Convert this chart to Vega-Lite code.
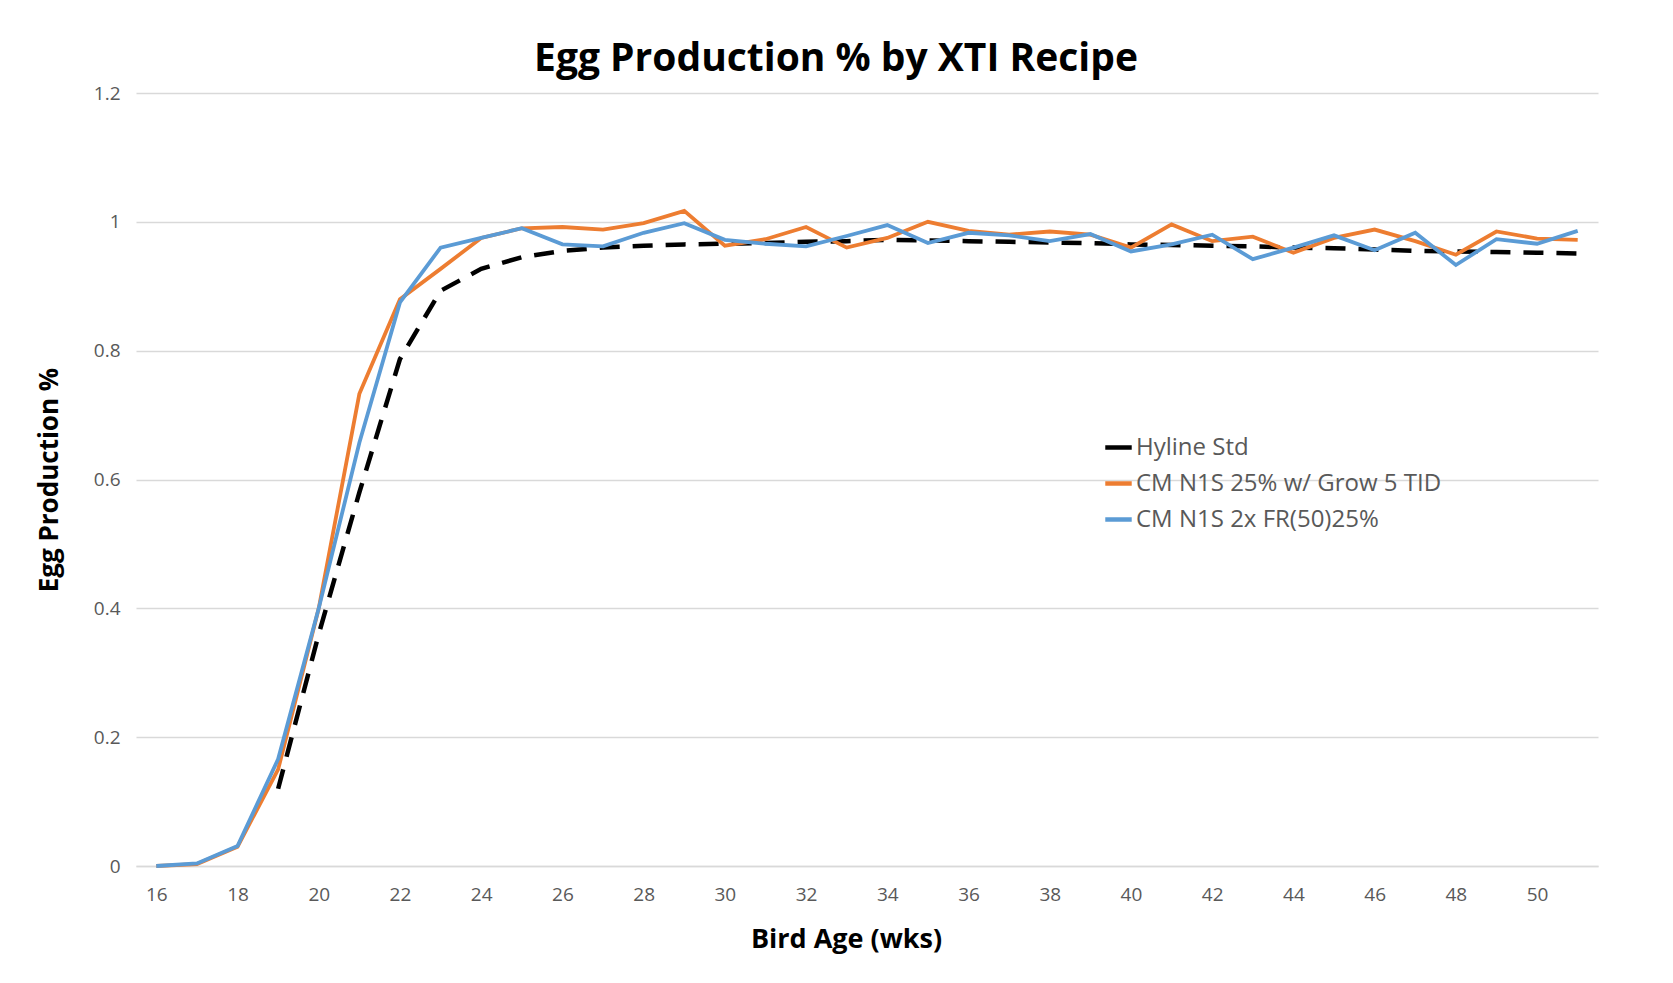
{
  "$schema": "https://vega.github.io/schema/vega-lite/v6.json",
  "width": 1462,
  "height": 773,
  "autosize": {"type": "none"},
  "padding": {"left": 136, "top": 93, "right": 75, "bottom": 117},
  "background": "white",
  "title": {"text": "Egg Production % by XTI Recipe", "font": "Open Sans", "fontSize": 39, "fontWeight": "bold", "color": "#000000", "anchor": "middle", "dx": -31, "offset": 5},
  "config": {"view": {"stroke": null}, "font": "Open Sans"},
  "data": {"values": [
    {"week": 19, "series": "Hyline Std", "value": 0.12},
    {"week": 20, "series": "Hyline Std", "value": 0.36},
    {"week": 21, "series": "Hyline Std", "value": 0.58},
    {"week": 22, "series": "Hyline Std", "value": 0.787},
    {"week": 23, "series": "Hyline Std", "value": 0.893},
    {"week": 24, "series": "Hyline Std", "value": 0.927},
    {"week": 25, "series": "Hyline Std", "value": 0.945},
    {"week": 26, "series": "Hyline Std", "value": 0.955},
    {"week": 27, "series": "Hyline Std", "value": 0.96},
    {"week": 28, "series": "Hyline Std", "value": 0.963},
    {"week": 29, "series": "Hyline Std", "value": 0.965},
    {"week": 30, "series": "Hyline Std", "value": 0.966},
    {"week": 31, "series": "Hyline Std", "value": 0.967},
    {"week": 32, "series": "Hyline Std", "value": 0.969},
    {"week": 33, "series": "Hyline Std", "value": 0.97},
    {"week": 34, "series": "Hyline Std", "value": 0.972},
    {"week": 35, "series": "Hyline Std", "value": 0.971},
    {"week": 36, "series": "Hyline Std", "value": 0.97},
    {"week": 37, "series": "Hyline Std", "value": 0.969},
    {"week": 38, "series": "Hyline Std", "value": 0.968},
    {"week": 39, "series": "Hyline Std", "value": 0.967},
    {"week": 40, "series": "Hyline Std", "value": 0.965},
    {"week": 41, "series": "Hyline Std", "value": 0.964},
    {"week": 42, "series": "Hyline Std", "value": 0.963},
    {"week": 43, "series": "Hyline Std", "value": 0.962},
    {"week": 44, "series": "Hyline Std", "value": 0.96},
    {"week": 45, "series": "Hyline Std", "value": 0.959},
    {"week": 46, "series": "Hyline Std", "value": 0.957},
    {"week": 47, "series": "Hyline Std", "value": 0.955},
    {"week": 48, "series": "Hyline Std", "value": 0.954},
    {"week": 49, "series": "Hyline Std", "value": 0.953},
    {"week": 50, "series": "Hyline Std", "value": 0.952},
    {"week": 51, "series": "Hyline Std", "value": 0.951},
    {"week": 16, "series": "CM N1S 25% w/ Grow 5 TID", "value": 0},
    {"week": 17, "series": "CM N1S 25% w/ Grow 5 TID", "value": 0.003},
    {"week": 18, "series": "CM N1S 25% w/ Grow 5 TID", "value": 0.03},
    {"week": 19, "series": "CM N1S 25% w/ Grow 5 TID", "value": 0.15},
    {"week": 20, "series": "CM N1S 25% w/ Grow 5 TID", "value": 0.4},
    {"week": 21, "series": "CM N1S 25% w/ Grow 5 TID", "value": 0.733},
    {"week": 22, "series": "CM N1S 25% w/ Grow 5 TID", "value": 0.88},
    {"week": 23, "series": "CM N1S 25% w/ Grow 5 TID", "value": 0.927},
    {"week": 24, "series": "CM N1S 25% w/ Grow 5 TID", "value": 0.975},
    {"week": 25, "series": "CM N1S 25% w/ Grow 5 TID", "value": 0.99},
    {"week": 26, "series": "CM N1S 25% w/ Grow 5 TID", "value": 0.992},
    {"week": 27, "series": "CM N1S 25% w/ Grow 5 TID", "value": 0.988},
    {"week": 28, "series": "CM N1S 25% w/ Grow 5 TID", "value": 0.998},
    {"week": 29, "series": "CM N1S 25% w/ Grow 5 TID", "value": 1.017},
    {"week": 30, "series": "CM N1S 25% w/ Grow 5 TID", "value": 0.963},
    {"week": 31, "series": "CM N1S 25% w/ Grow 5 TID", "value": 0.973},
    {"week": 32, "series": "CM N1S 25% w/ Grow 5 TID", "value": 0.992},
    {"week": 33, "series": "CM N1S 25% w/ Grow 5 TID", "value": 0.96},
    {"week": 34, "series": "CM N1S 25% w/ Grow 5 TID", "value": 0.975},
    {"week": 35, "series": "CM N1S 25% w/ Grow 5 TID", "value": 1.0},
    {"week": 36, "series": "CM N1S 25% w/ Grow 5 TID", "value": 0.986},
    {"week": 37, "series": "CM N1S 25% w/ Grow 5 TID", "value": 0.98},
    {"week": 38, "series": "CM N1S 25% w/ Grow 5 TID", "value": 0.985},
    {"week": 39, "series": "CM N1S 25% w/ Grow 5 TID", "value": 0.98},
    {"week": 40, "series": "CM N1S 25% w/ Grow 5 TID", "value": 0.96},
    {"week": 41, "series": "CM N1S 25% w/ Grow 5 TID", "value": 0.996},
    {"week": 42, "series": "CM N1S 25% w/ Grow 5 TID", "value": 0.97},
    {"week": 43, "series": "CM N1S 25% w/ Grow 5 TID", "value": 0.977},
    {"week": 44, "series": "CM N1S 25% w/ Grow 5 TID", "value": 0.952},
    {"week": 45, "series": "CM N1S 25% w/ Grow 5 TID", "value": 0.975},
    {"week": 46, "series": "CM N1S 25% w/ Grow 5 TID", "value": 0.988},
    {"week": 47, "series": "CM N1S 25% w/ Grow 5 TID", "value": 0.97},
    {"week": 48, "series": "CM N1S 25% w/ Grow 5 TID", "value": 0.949},
    {"week": 49, "series": "CM N1S 25% w/ Grow 5 TID", "value": 0.985},
    {"week": 50, "series": "CM N1S 25% w/ Grow 5 TID", "value": 0.974},
    {"week": 51, "series": "CM N1S 25% w/ Grow 5 TID", "value": 0.972},
    {"week": 16, "series": "CM N1S 2x FR(50)25%", "value": 0},
    {"week": 17, "series": "CM N1S 2x FR(50)25%", "value": 0.004},
    {"week": 18, "series": "CM N1S 2x FR(50)25%", "value": 0.031},
    {"week": 19, "series": "CM N1S 2x FR(50)25%", "value": 0.166},
    {"week": 20, "series": "CM N1S 2x FR(50)25%", "value": 0.4},
    {"week": 21, "series": "CM N1S 2x FR(50)25%", "value": 0.657},
    {"week": 22, "series": "CM N1S 2x FR(50)25%", "value": 0.875},
    {"week": 23, "series": "CM N1S 2x FR(50)25%", "value": 0.96},
    {"week": 24, "series": "CM N1S 2x FR(50)25%", "value": 0.975},
    {"week": 25, "series": "CM N1S 2x FR(50)25%", "value": 0.99},
    {"week": 26, "series": "CM N1S 2x FR(50)25%", "value": 0.965},
    {"week": 27, "series": "CM N1S 2x FR(50)25%", "value": 0.962},
    {"week": 28, "series": "CM N1S 2x FR(50)25%", "value": 0.983},
    {"week": 29, "series": "CM N1S 2x FR(50)25%", "value": 0.998},
    {"week": 30, "series": "CM N1S 2x FR(50)25%", "value": 0.972},
    {"week": 31, "series": "CM N1S 2x FR(50)25%", "value": 0.966},
    {"week": 32, "series": "CM N1S 2x FR(50)25%", "value": 0.962},
    {"week": 33, "series": "CM N1S 2x FR(50)25%", "value": 0.978},
    {"week": 34, "series": "CM N1S 2x FR(50)25%", "value": 0.995},
    {"week": 35, "series": "CM N1S 2x FR(50)25%", "value": 0.967},
    {"week": 36, "series": "CM N1S 2x FR(50)25%", "value": 0.983},
    {"week": 37, "series": "CM N1S 2x FR(50)25%", "value": 0.979},
    {"week": 38, "series": "CM N1S 2x FR(50)25%", "value": 0.97},
    {"week": 39, "series": "CM N1S 2x FR(50)25%", "value": 0.981},
    {"week": 40, "series": "CM N1S 2x FR(50)25%", "value": 0.954},
    {"week": 41, "series": "CM N1S 2x FR(50)25%", "value": 0.965},
    {"week": 42, "series": "CM N1S 2x FR(50)25%", "value": 0.98},
    {"week": 43, "series": "CM N1S 2x FR(50)25%", "value": 0.942},
    {"week": 44, "series": "CM N1S 2x FR(50)25%", "value": 0.96},
    {"week": 45, "series": "CM N1S 2x FR(50)25%", "value": 0.979},
    {"week": 46, "series": "CM N1S 2x FR(50)25%", "value": 0.956},
    {"week": 47, "series": "CM N1S 2x FR(50)25%", "value": 0.983},
    {"week": 48, "series": "CM N1S 2x FR(50)25%", "value": 0.933},
    {"week": 49, "series": "CM N1S 2x FR(50)25%", "value": 0.973},
    {"week": 50, "series": "CM N1S 2x FR(50)25%", "value": 0.966},
    {"week": 51, "series": "CM N1S 2x FR(50)25%", "value": 0.986}
  ]},
  "encoding": {
    "x": {
      "field": "week", "type": "quantitative",
      "scale": {"domain": [15.5, 51.5], "nice": false, "zero": false},
      "axis": {
        "title": "Bird Age (wks)",
        "values": [16, 18, 20, 22, 24, 26, 28, 30, 32, 34, 36, 38, 40, 42, 44, 46, 48, 50],
        "grid": false, "ticks": false,
        "domainColor": "#D9D9D9", "domainWidth": 1.5,
        "labelFont": "Open Sans", "labelFontSize": 19, "labelColor": "#595959", "labelPadding": 19,
        "titleFont": "Open Sans", "titleFontSize": 27, "titleFontWeight": "bold", "titleColor": "#000000", "titlePadding": 22, "titleX": 710
      }
    },
    "y": {
      "field": "value", "type": "quantitative",
      "scale": {"domain": [0, 1.2], "nice": false},
      "axis": {
        "title": "Egg Production %",
        "values": [0, 0.2, 0.4, 0.6, 0.8, 1, 1.2],
        "format": "~g",
        "domain": false, "ticks": false,
        "grid": true, "gridColor": "#D9D9D9", "gridWidth": 1.5,
        "labelFont": "Open Sans", "labelFontSize": 19, "labelColor": "#595959", "labelPadding": 16,
        "titleFont": "Open Sans", "titleFontSize": 26, "titleFontWeight": "bold", "titleColor": "#000000", "titlePadding": 31
      }
    },
    "color": {
      "field": "series", "type": "nominal",
      "scale": {"domain": ["Hyline Std", "CM N1S 25% w/ Grow 5 TID", "CM N1S 2x FR(50)25%"], "range": ["#000000", "#ED7D31", "#5B9BD5"]},
      "legend": {
        "orient": "none", "legendX": 967, "legendY": 339, "title": null, "padding": 0,
        "symbolType": "stroke", "symbolSize": 700, "symbolStrokeWidth": 4.5, "symbolDash": [1, 0],
        "labelFont": "Open Sans", "labelFontSize": 24, "labelColor": "#595959", "labelOffset": 2, "labelLimit": 0, "rowPadding": 8
      }
    }
  },
  "layer": [
    {"transform": [{"filter": "datum.series === 'Hyline Std'"}], "mark": {"type": "line", "strokeWidth": 4.5, "strokeDash": [20, 13]}},
    {"transform": [{"filter": "datum.series === 'CM N1S 25% w/ Grow 5 TID'"}], "mark": {"type": "line", "strokeWidth": 3.8}},
    {"transform": [{"filter": "datum.series === 'CM N1S 2x FR(50)25%'"}], "mark": {"type": "line", "strokeWidth": 3.8}}
  ]
}
